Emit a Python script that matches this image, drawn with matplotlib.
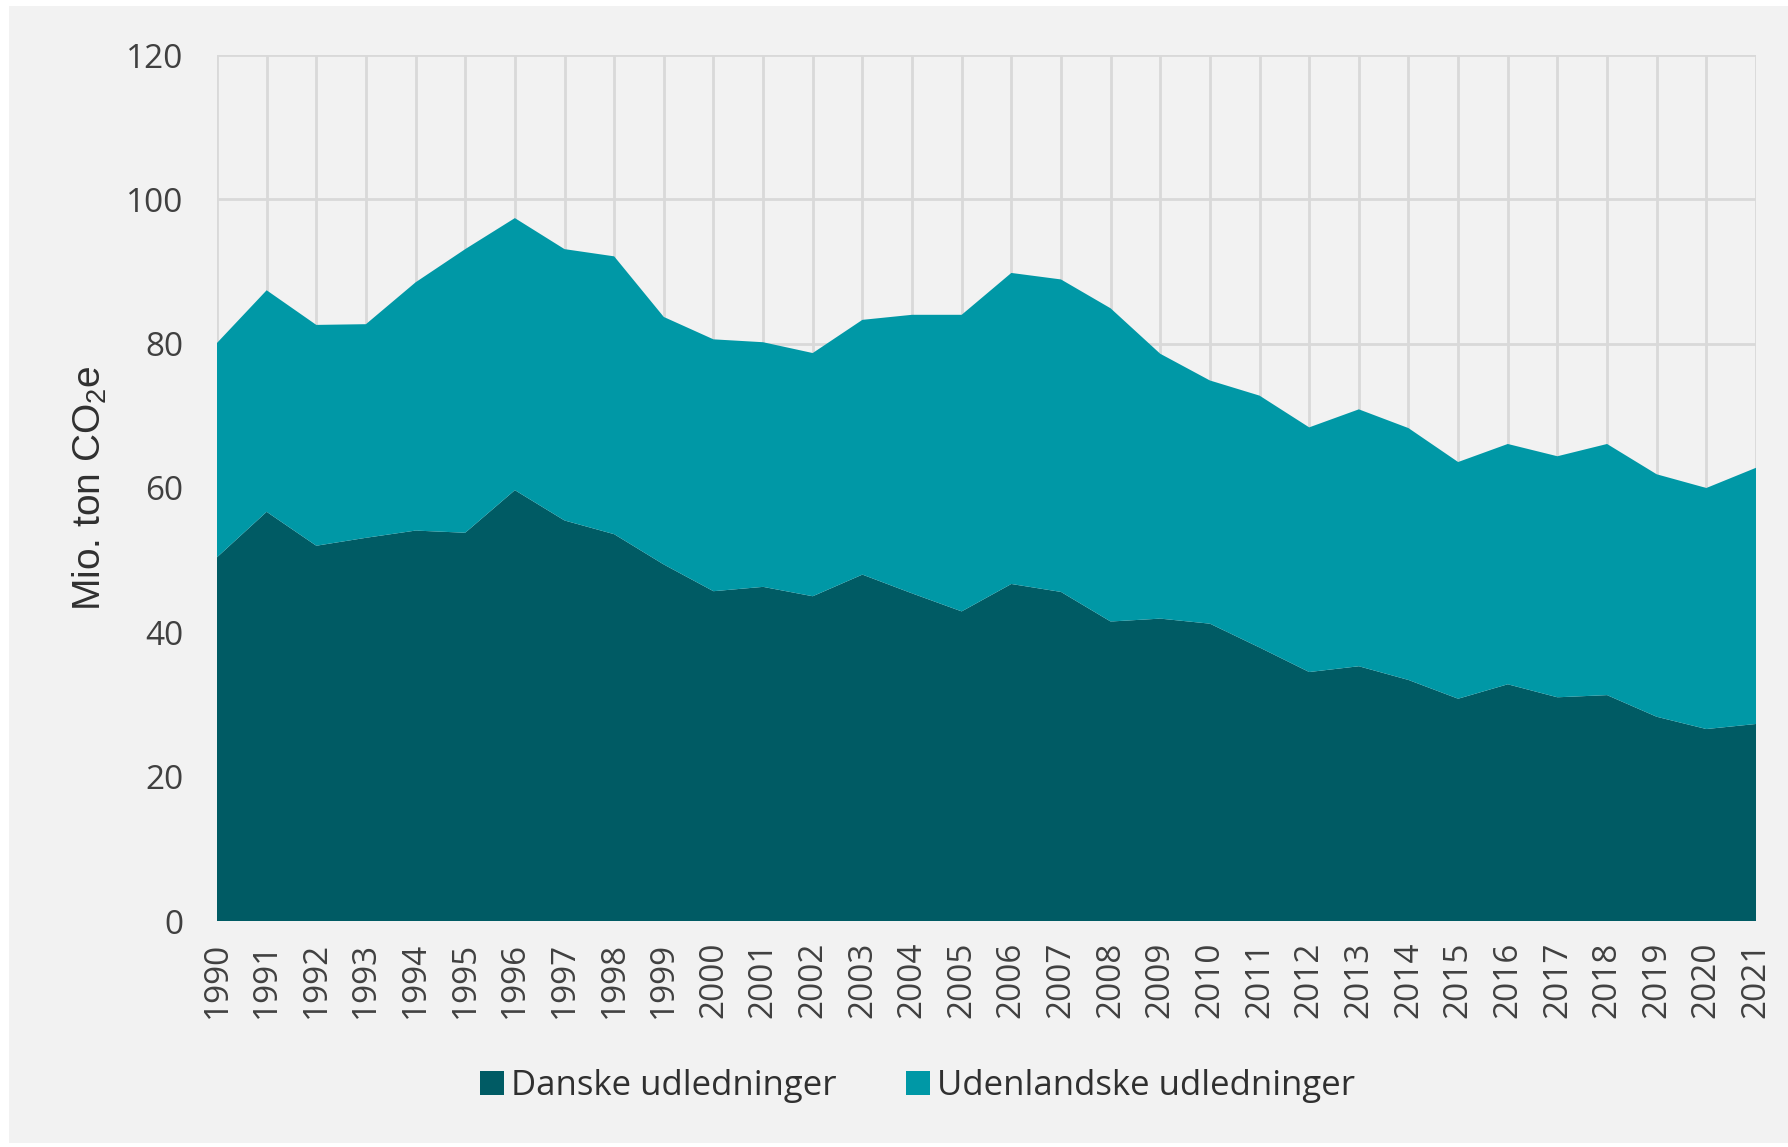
import numpy as np
import matplotlib
matplotlib.use('Agg')
import matplotlib.pyplot as plt
from matplotlib.patches import Rectangle

years = list(range(1990, 2022))

# Danske udledninger (Mio. ton CO2e)
danske = [50.4, 56.7, 52.0, 53.1, 54.1, 53.8, 59.7, 55.5, 53.6, 49.4,
          45.7, 46.3, 45.0, 48.0, 45.4, 42.9, 46.7, 45.6, 41.5, 41.9,
          41.2, 37.9, 34.5, 35.3, 33.4, 30.8, 32.8, 31.0, 31.3, 28.3,
          26.6, 27.3]

# total (danske + udenlandske)
total = [80.1, 87.4, 82.6, 82.7, 88.5, 93.1, 97.4, 93.1, 92.1, 83.7,
         80.6, 80.2, 78.7, 83.3, 84.0, 84.0, 89.8, 88.9, 84.9, 78.6,
         74.9, 72.8, 68.4, 70.9, 68.3, 63.6, 66.1, 64.4, 66.1, 61.9,
         60.0, 62.8]

udenlandske = [t - d for t, d in zip(total, danske)]

labels = ['Danske udledninger', 'Udenlandske udledninger']
colors = ['#005B64', '#0098A6']

plt.rcParams['font.family'] = ['Open Sans', 'DejaVu Sans']
plt.rcParams['mathtext.fontset'] = 'custom'
plt.rcParams['mathtext.rm'] = 'Liberation Sans'
plt.rcParams['mathtext.it'] = 'Liberation Sans:italic'

text_col = '#404040'

fig = plt.figure(figsize=(17.88, 11.47), dpi=100)
fig.patch.set_facecolor('white')
# grey chart panel with thin white border
fig.patches.append(Rectangle((9 / 1788, 4 / 1147), 1 - 9 / 1788, 1 - 10 / 1147,
                             transform=fig.transFigure, facecolor='#F2F2F2',
                             edgecolor='none', zorder=-10))

ax = fig.add_axes([217 / 1788, 1 - 921 / 1147, (1756 - 217) / 1788, (921 - 55) / 1147])
ax.set_zorder(1)
ax.set_facecolor('#F2F2F2')

ax.stackplot(years, danske, udenlandske, labels=labels, colors=colors,
             linewidth=0, zorder=2)

ax.set_xlim(1990, 2021)
ax.set_ylim(0, 120)
ax.set_xticks(years)
ax.set_xticklabels([str(y) for y in years], rotation=90, fontsize=24, color=text_col)
ax.set_yticks(range(0, 121, 20))
ax.set_yticklabels([str(v) for v in range(0, 121, 20)], fontsize=24, color=text_col)
ax.tick_params(length=0)
ax.tick_params(axis='y', pad=24)
ax.tick_params(axis='x', pad=15)

ax.grid(True, color='#D9D9D9', linewidth=2, zorder=0)
ax.set_axisbelow(True)
for s in ax.spines.values():
    s.set_visible(False)

ax.set_ylabel(r'Mio. ton CO$_2$e', fontsize=28, color='#303030',
              family='Liberation Sans')
ax.yaxis.set_label_coords(-0.07, 0.5)

leg = fig.legend(loc='center', bbox_to_anchor=(0.513, 1 - 1086 / 1147), ncol=2,
                 frameon=False, fontsize=25, handlelength=0.7, handleheight=0.7,
                 handletextpad=0.2, columnspacing=2.0)
for t in leg.get_texts():
    t.set_color('#303030')

fig.savefig('out.png', dpi=100, facecolor=fig.get_facecolor())
